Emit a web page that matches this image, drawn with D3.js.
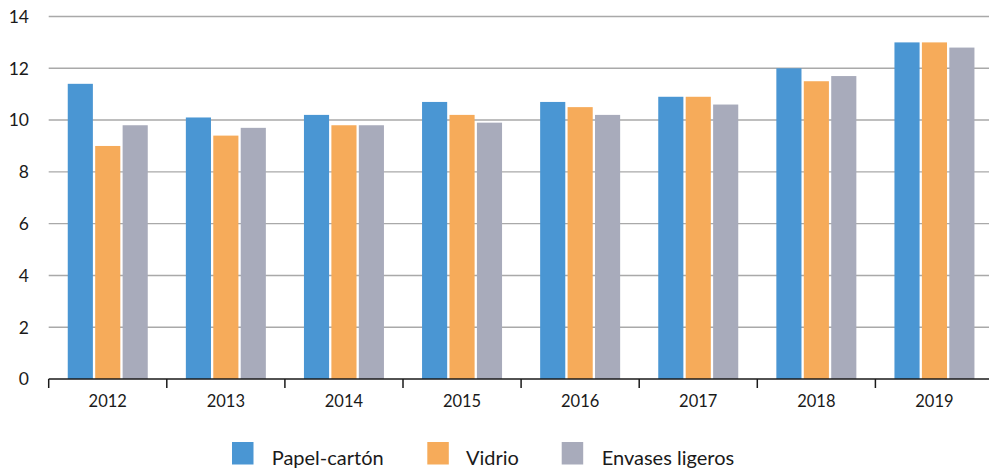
<!DOCTYPE html>
<html><head><meta charset="utf-8">
<script src="https://cdn.jsdelivr.net/npm/d3@7"></script>
<style>body{margin:0;background:#fff}svg{display:block}text{font-family:Lato,"Open Sans",sans-serif;fill:#1a1a1a}</style>
</head><body>
<svg id="c" width="989" height="474"></svg>
<script>
const years = ["2012","2013","2014","2015","2016","2017","2018","2019"];
const series = ["Papel-cartón","Vidrio","Envases ligeros"];
const papel = [11.4,10.1,10.2,10.7,10.7,10.9,12.0,13.0];
const vidrio = [9.0,9.4,9.8,10.2,10.5,10.9,11.5,13.0];
const envases = [9.8,9.7,9.8,9.9,10.2,10.6,11.7,12.8];
const yTicks = [0,2,4,6,8,10,12,14];
const colors = ["#4a96d3","#f6ab5a","#a8abbb"];
const values = [papel, vidrio, envases];

const svg = d3.select("#c");
const x0 = d3.scaleBand().domain(years).range([48.7, 993.5]).padding(0);
const groupW = 80;
const x1 = d3.scaleBand().domain(series).range([0, groupW]).paddingInner(0.084);
const y = d3.scaleLinear().domain([0,14]).range([379, 16.5]);

// gridlines
svg.append("g").selectAll("line").data(yTicks.filter(d=>d>0)).join("line")
  .attr("x1", 48.7).attr("x2", 989)
  .attr("y1", d=>y(d)).attr("y2", d=>y(d))
  .attr("stroke", "#a9a9a9").attr("stroke-width", 1.4);

// y labels
svg.append("g").selectAll("text").data(yTicks).join("text")
  .attr("x", 29).attr("y", d=>y(d)).attr("dy","0.36em")
  .attr("text-anchor","end").attr("font-size", 17.5).text(d=>d);

// bars
const g = svg.append("g").selectAll("g").data(years).join("g")
  .attr("transform", d=>`translate(${x0(d) + (x0.bandwidth()-groupW)/2},0)`);
g.selectAll("rect").data((d,i)=>series.map((s,k)=>({s, k, v: values[k][i]}))).join("rect")
  .attr("x", d=>x1(d.s)).attr("width", x1.bandwidth())
  .attr("y", d=>y(d.v)).attr("height", d=>y(0)-y(d.v))
  .attr("fill", d=>colors[d.k]);

// x axis
const ax = svg.append("g");
ax.append("line").attr("x1",48.7).attr("x2",989).attr("y1",y(0)).attr("y2",y(0))
  .attr("stroke","#1a1a1a").attr("stroke-width",1.5);
const bounds = years.map(d=>x0(d));
ax.selectAll("line.t").data(bounds).join("line").attr("class","t")
  .attr("x1",d=>d).attr("x2",d=>d).attr("y1",y(0)).attr("y2",y(0)+9)
  .attr("stroke","#1a1a1a").attr("stroke-width",1.5);
ax.selectAll("text").data(years).join("text")
  .attr("x", d=>x0(d)+x0.bandwidth()/2).attr("y", 407)
  .attr("text-anchor","middle").attr("font-size",16.5).text(d=>d);

// legend
const legX = [232, 427.3, 561.7];
const lg = svg.append("g").selectAll("g").data(series).join("g")
  .attr("transform",(d,i)=>`translate(${legX[i]},442)`);
lg.append("rect").attr("width",21.5).attr("height",22.5).attr("fill",(d,i)=>colors[i]);
lg.append("text").attr("x",(d,i)=>[39.7,38.7,40][i]).attr("y",22.5)
  .attr("font-size",20).text(d=>d);
</script>
</body></html>
